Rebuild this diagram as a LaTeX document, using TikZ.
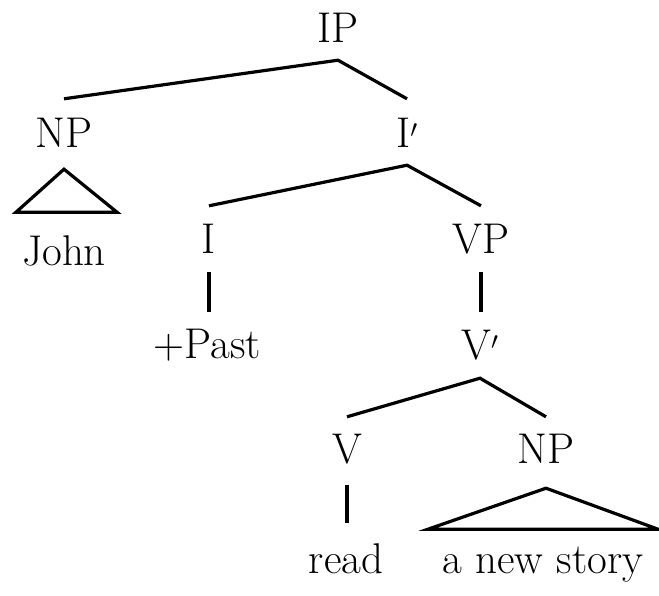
\documentclass[tikz,border=0pt]{standalone}
\begin{document}
\begin{tikzpicture}[x=1pt,y=-1pt,
  lab/.style={anchor=base,inner sep=0pt,text height=29pt,text depth=0pt,font=\fontsize{43}{50}\selectfont},
  edge/.style={line width=3.2pt,line cap=butt,line join=miter}]
\useasboundingbox (0,0) rectangle (659,595);
\node[lab] (ip) at (338,42) {IP};
\node[lab] (np1) at (64,147) {NP};
\node[lab] (ibar) at (407,147) {I$'$};
\node[lab] (john) at (64,265) {John};
\node[lab] (i) at (209,253) {I};
\node[lab] (vp) at (481,253) {VP};
\node[lab] (past) at (207,358) {+Past};
\node[lab] (vbar) at (480,359) {V$'$};
\node[lab] (v) at (347,463) {V};
\node[lab] (np2) at (546,463) {NP};
\node[lab] (read) at (346,573) {read};
\node[lab] (story) at (543,573) {a new story};
% edges
\draw[edge] ([yshift=19pt]np1.north) -- ([yshift=-18pt]ip.south) -- ([yshift=19pt]ibar.north);
\draw[edge] ([yshift=18pt]i.north) -- ([yshift=-18pt]ibar.south) -- ([yshift=18pt]vp.north);
\draw[edge] ([yshift=-19pt]i.south) -- ([yshift=-59pt]i.south);
\draw[edge] ([yshift=-19pt]vp.south) -- ([yshift=-59pt]vp.south);
\draw[edge] ([yshift=17pt]v.north) -- ([yshift=-19pt]vbar.south) -- ([yshift=17pt]np2.north);
\draw[edge] ([yshift=-22pt]v.south) -- ([yshift=-60pt]v.south);
% triangles
\draw[edge] ([yshift=-22pt]np1.south) -- ++(-48,43) -- ++(101,0) -- cycle;
\draw[edge] ([yshift=-25pt]np2.south) -- ++(-118,41) -- ++(230,0) -- cycle;
\end{tikzpicture}
\end{document}
